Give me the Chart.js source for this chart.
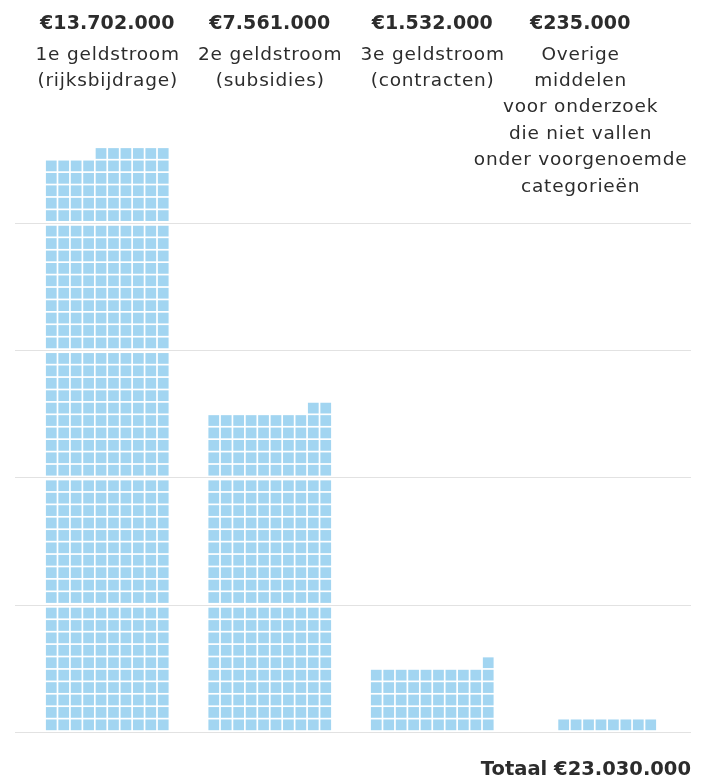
<!DOCTYPE html>
<html><head><meta charset="utf-8">
<script src="https://cdn.jsdelivr.net/npm/chart.js@4"></script>
<style>html,body{margin:0;padding:0;background:#fff}#wrap{width:702px;height:783px;position:relative}</style>
</head><body><div id="wrap"><canvas id="c"></canvas></div>
<script>
// ---- data ----
const categories = [
  ['1e geldstroom', '(rijksbijdrage)'],
  ['2e geldstroom', '(subsidies)'],
  ['3e geldstroom', '(contracten)'],
  ['Overige', 'middelen', 'voor onderzoek', 'die niet vallen', 'onder voorgenoemde', 'categorieën']
];
const amounts = [13702000, 7561000, 1532000, 235000];
const squareCounts = [456, 252, 51, 8];   // squares drawn per column
const totalAmount = 23030000;
const squaresPerRow = 10;
const rowsPerBand = 10;

function euro(v) { return '€' + String(v).replace(/\B(?=(\d{3})+(?!\d))/g, '.'); }

const TEXT = '#2c2c2c';
const FONT = '"DejaVu Sans", sans-serif';

const waffle = {
  id: 'waffle',
  afterDatasetsDraw(chart) {
    const ctx = chart.ctx, y = chart.scales.y, meta = chart.getDatasetMeta(0);
    const gap = 1.7, pad = 2.4;
    const perBand = squaresPerRow * rowsPerBand;
    ctx.save();
    ctx.fillStyle = '#a2d5f1';
    meta.data.forEach((bar, i) => {
      const n = chart.data.datasets[0].data[i];
      const left = bar.x - bar.width / 2;
      const sx = (bar.width - (squaresPerRow - 1) * gap) / squaresPerRow;
      for (let j = 0; j < n; j++) {
        const row = Math.floor(j / squaresPerRow);
        const col = squaresPerRow - 1 - (j % squaresPerRow);
        const band = Math.floor(row / rowsPerBand), r = row % rowsPerBand;
        const b0 = y.getPixelForValue(band * perBand);
        const b1 = y.getPixelForValue((band + 1) * perBand);
        const sy = (b0 - b1 - 2 * pad - (rowsPerBand - 1) * gap) / rowsPerBand;
        const yb = b0 - pad - r * (sy + gap);
        ctx.fillRect(left + col * (sx + gap), yb - sy, sx, sy);
      }
    });
    ctx.restore();
  }
};

const topLabels = {
  id: 'topLabels',
  afterDraw(chart) {
    const ctx = chart.ctx, meta = chart.getDatasetMeta(0);
    const rightLimit = chart.chartArea.right + 11;
    ctx.save();
    ctx.fillStyle = TEXT;
    ctx.textAlign = 'center';
    ctx.textBaseline = 'alphabetic';
    meta.data.forEach((bar, i) => {
      const lines = chart.data.labels[i];
      const head = euro(amounts[i]);
      ctx.letterSpacing = '0px';
      ctx.font = 'bold 19px ' + FONT;
      let w = ctx.measureText(head).width;
      ctx.font = '18.5px ' + FONT;
      ctx.letterSpacing = '0.8px';
      lines.forEach(l => { w = Math.max(w, ctx.measureText(l).width); });
      const cx = Math.min(bar.x, rightLimit - w / 2);
      ctx.letterSpacing = '0.1px';
      ctx.font = 'bold 19px ' + FONT;
      ctx.fillText(head, cx, 28.5);
      ctx.letterSpacing = '0.8px';
      ctx.font = '18.5px ' + FONT;
      lines.forEach((l, k) => ctx.fillText(l, cx + 0.4, 59.5 + k * 26.4));
    });
    ctx.restore();
  }
};

const gridColor = '#e2e2e2';
new Chart(document.getElementById('c'), {
  type: 'bar',
  data: {
    labels: categories,
    datasets: [{
      data: squareCounts,
      backgroundColor: 'rgba(0,0,0,0)',
      borderWidth: 0,
      barPercentage: 0.755,
      categoryPercentage: 1
    }]
  },
  options: {
    responsive: true,
    maintainAspectRatio: false,
    animation: false,
    layout: { padding: { top: 121.5, left: 15, right: 11, bottom: 0 } },
    plugins: {
      legend: { display: false },
      tooltip: { enabled: false },
      title: {
        display: true,
        text: 'Totaal ' + euro(totalAmount),
        position: 'bottom',
        align: 'end',
        color: TEXT,
        font: { family: FONT, size: 19.5, weight: 'bold' },
        padding: { top: 26, bottom: 1 }
      }
    },
    scales: {
      x: { display: false, offset: true },
      y: {
        position: 'left', min: 0, max: 480,
        ticks: { display: false, stepSize: squaresPerRow * rowsPerBand, includeBounds: false },
        grid: { color: gridColor, lineWidth: 1, drawTicks: true, tickLength: 11 },
        border: { display: false }
      },
      y2: {
        axis: 'y', position: 'right', min: 0, max: 480,
        ticks: { display: false, stepSize: squaresPerRow * rowsPerBand, includeBounds: false },
        grid: { color: gridColor, lineWidth: 1, drawTicks: true, tickLength: 15, drawOnChartArea: false },
        border: { display: false }
      }
    }
  },
  plugins: [waffle, topLabels]
});
</script>
</body></html>
